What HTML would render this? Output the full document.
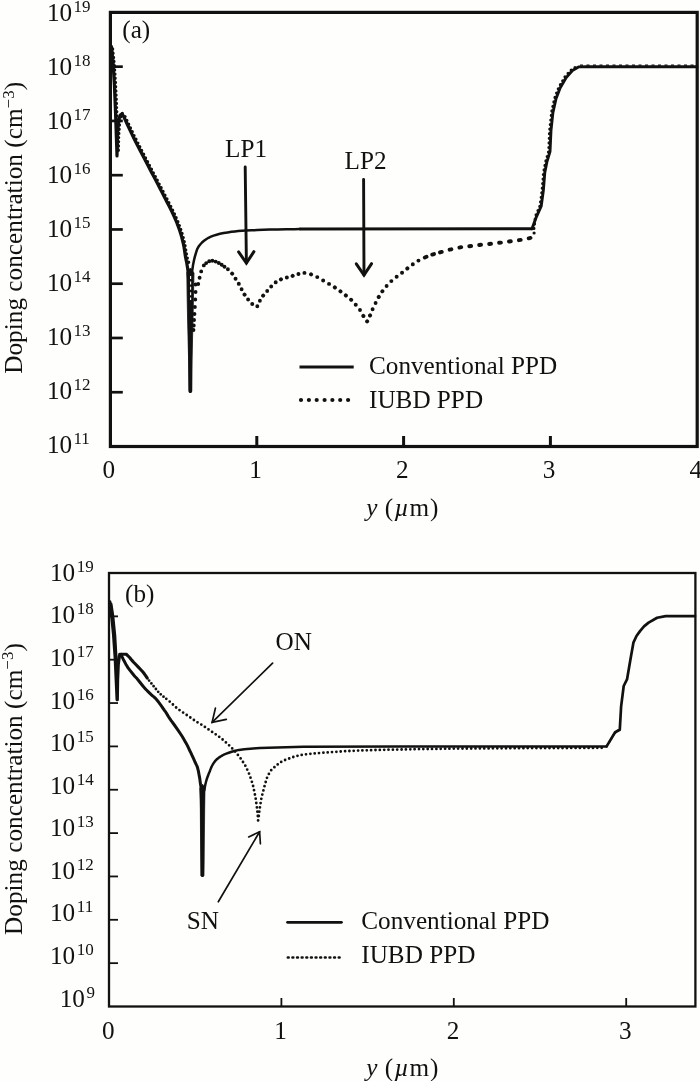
<!DOCTYPE html>
<html><head><meta charset="utf-8"><title>Doping concentration</title>
<style>html,body{margin:0;padding:0;background:#fefefc;}body{width:700px;height:1081px;overflow:hidden;}svg{display:block;will-change:transform;}text{font-family:"Liberation Serif",serif;fill:#111;}</style>
</head><body>
<svg width="700" height="1081" viewBox="0 0 700 1081">
<rect width="700" height="1081" fill="#fefefc"/>
<g fill="none" stroke="#111" stroke-linecap="butt" stroke-linejoin="miter">
<rect x="110.4" y="12.4" width="586.8" height="434.1" stroke-width="3.2"/>
<line x1="110.4" y1="66.66" x2="122.80000000000001" y2="66.66" stroke-width="2.7"/>
<line x1="110.4" y1="120.93" x2="122.80000000000001" y2="120.93" stroke-width="2.7"/>
<line x1="110.4" y1="175.19" x2="122.80000000000001" y2="175.19" stroke-width="2.7"/>
<line x1="110.4" y1="229.45" x2="122.80000000000001" y2="229.45" stroke-width="2.7"/>
<line x1="110.4" y1="283.71" x2="122.80000000000001" y2="283.71" stroke-width="2.7"/>
<line x1="110.4" y1="337.98" x2="122.80000000000001" y2="337.98" stroke-width="2.7"/>
<line x1="110.4" y1="392.24" x2="122.80000000000001" y2="392.24" stroke-width="2.7"/>
<line x1="256.80" y1="446.5" x2="256.80" y2="436.0" stroke-width="3"/>
<line x1="403.60" y1="446.5" x2="403.60" y2="436.0" stroke-width="3"/>
<line x1="550.40" y1="446.5" x2="550.40" y2="436.0" stroke-width="3"/>
</g>
<text x="47" y="21.30" font-size="25.2">10<tspan dy="-9" font-size="17" dx="1.2">19</tspan></text>
<text x="47" y="75.24" font-size="25.2">10<tspan dy="-9" font-size="17" dx="1.2">18</tspan></text>
<text x="47" y="129.18" font-size="25.2">10<tspan dy="-9" font-size="17" dx="1.2">17</tspan></text>
<text x="47" y="183.12" font-size="25.2">10<tspan dy="-9" font-size="17" dx="1.2">16</tspan></text>
<text x="47" y="237.06" font-size="25.2">10<tspan dy="-9" font-size="17" dx="1.2">15</tspan></text>
<text x="47" y="291.00" font-size="25.2">10<tspan dy="-9" font-size="17" dx="1.2">14</tspan></text>
<text x="47" y="344.94" font-size="25.2">10<tspan dy="-9" font-size="17" dx="1.2">13</tspan></text>
<text x="47" y="398.88" font-size="25.2">10<tspan dy="-9" font-size="17" dx="1.2">12</tspan></text>
<text x="47" y="452.82" font-size="25.2">10<tspan dy="-9" font-size="17" dx="1.2">11</tspan></text>
<text x="108.70" y="477.7" font-size="25.2" text-anchor="middle">0</text>
<text x="255.50" y="477.7" font-size="25.2" text-anchor="middle">1</text>
<text x="402.30" y="477.7" font-size="25.2" text-anchor="middle">2</text>
<text x="549.10" y="477.7" font-size="25.2" text-anchor="middle">3</text>
<text x="695.90" y="477.7" font-size="25.2" text-anchor="middle">4</text>
<text x="366.3" y="515.6" font-size="25.2"><tspan font-style="italic">y</tspan><tspan dx="1"> (</tspan><tspan font-style="italic" dx="1">µ</tspan><tspan dx="0.8" letter-spacing="0.8">m)</tspan></text>
<text transform="translate(22.3,227.8) rotate(-90)" font-size="25.2" text-anchor="middle" letter-spacing="0.04">Doping concentration (cm<tspan dy="-8.5" font-size="17">−3</tspan><tspan dy="8.5">)</tspan></text>
<text x="122.3" y="37.9" font-size="25.2">(a)</text>
<g fill="none" stroke="#111" stroke-linejoin="round" stroke-linecap="round">
<polyline points="111.4,46.5 113.0,62.0 114.4,85.0 115.5,112.0 116.4,138.0 117.0,156.0 117.0,156.0 117.4,140.0 117.9,128.0 118.8,119.5 120.2,115.2 121.8,114.2 123.2,115.6 123.2,115.6 125.1,119.6 127.7,125.4 130.8,131.9 134.0,138.5 137.3,145.1 140.9,152.0 144.6,158.9 148.0,165.5 151.3,171.9 154.6,178.1 157.6,183.8 160.0,188.5 161.6,191.6 162.6,193.5 163.5,195.2 164.8,197.8 166.8,201.7 169.2,206.3 171.6,211.1 173.7,215.5 175.4,219.4 177.0,223.2 178.3,226.8 179.6,230.3 180.7,233.7 181.7,237.0 182.5,240.3 183.3,243.6 184.0,247.0 184.5,250.3 185.0,253.7 185.5,256.9 186.1,259.9 186.7,262.8 187.2,265.7 187.7,268.8 188.1,272.0 188.3,275.1 188.6,278.8 188.8,283.6 189.0,288.8 189.2,294.3 189.4,301.9 189.6,313.0 189.8,331.0 189.9,354.1 190.1,376.2 190.2,391.5" stroke-width="3.2"/>
<polyline points="190.6,391.5 190.6,373.4 190.7,347.0 190.8,320.0 190.9,300.0 191.0,289.8 191.2,285.0 191.3,282.7 191.5,280.0 191.7,276.6 191.9,273.9 192.1,271.4 192.5,268.8 192.9,265.8 193.5,262.8 194.1,259.8 194.8,256.9 195.6,254.1 196.4,251.5 197.3,248.9 198.6,246.6 200.2,244.5 202.0,242.5 204.0,240.8 206.2,239.2 208.5,237.8 210.9,236.7 213.6,235.6 216.6,234.7 220.0,233.8 223.7,233.0 227.6,232.4 231.4,231.8 234.9,231.4 238.2,231.1 241.9,230.8 246.2,230.6 251.4,230.3 257.1,230.1 263.4,229.8 270.0,229.6 277.8,229.4 286.5,229.3 294.5,229.2 300.0,229.1" stroke-width="2.5"/>
<polygon points="187.0,272.0 190.4,268.0 194.0,273.0 193.4,300.0 193.0,320.0 192.5,340.0 192.1,360.0 191.8,391.5 189.0,391.5 188.6,360.0 188.1,340.0 187.6,320.0 187.2,300.0" fill="#111" stroke-width="0.8"/>
<line x1="190.6" y1="276" x2="190.6" y2="300" stroke="#fefefc" stroke-width="1.1" stroke-dasharray="3 2.4" stroke-linecap="butt"/>
<polyline points="300.0,229.1 532.0,228.8" stroke-width="3.0"/>
<polyline points="532.0,228.8 536.4,216.8 541.2,206.2 543.4,190.0 544.8,172.5 546.9,161.9 550.0,151.6 551.0,130.3 552.9,112.7 556.0,98.7 560.1,88.1 566.2,77.6 572.4,70.5 578.5,66.9 586.0,66.7 697.0,66.7" stroke-width="2.9"/>
</g>
<path d="M112.6,49.0h0M113.0,53.2h0M113.5,57.4h0M113.9,61.5h0M114.4,65.7h0M114.6,69.9h0M114.9,74.1h0M115.1,78.3h0M115.4,82.5h0M115.6,86.7h0M115.8,90.9h0M116.0,95.1h0M116.2,99.3h0M116.4,103.5h0M116.5,107.6h0M116.7,111.8h0M116.9,116.0h0M117.0,120.2h0M117.2,124.4h0M117.3,128.6h0M117.5,132.8h0M117.6,137.0h0M117.8,141.2h0M117.9,145.4h0M118.1,149.6h0M118.3,150.2h0M118.4,146.0h0M118.5,141.8h0M118.6,137.6h0M118.8,133.4h0M119.1,129.2h0M119.4,125.0h0M119.8,120.8h0M120.8,116.8h0M122.3,113.5h0M125.0,116.6h0M126.8,120.4h0M128.6,124.2h0M130.4,128.0h0M132.2,131.8h0M134.0,135.6h0M135.9,139.3h0M137.8,143.1h0M139.7,146.8h0M141.6,150.5h0M143.6,154.3h0M145.5,158.0h0M147.5,161.7h0M149.4,165.4h0M151.4,169.2h0M153.3,172.9h0M155.3,176.6h0M157.2,180.3h0M159.1,184.1h0M161.1,187.8h0M163.0,191.5h0M164.9,195.2h0M166.9,199.0h0M168.8,202.7h0M170.7,206.4h0M172.6,210.2h0M174.4,214.0h0M176.1,217.8h0M177.8,221.7h0M179.3,225.6h0M180.7,229.5h0M182.0,233.5h0M183.2,237.6h0M184.2,241.7h0M185.0,245.8h0M185.7,249.9h0M186.4,254.0h0M187.3,258.1h0M188.6,262.2h0" fill="none" stroke="#111" stroke-width="3.4" stroke-linecap="round"/>
<path d="M195.6,284.5h0M195.6,292.0h0M195.3,299.5h0M194.9,307.0h0M194.5,314.0h0M194.1,320.0h0M193.8,325.5h0M193.5,330.0h0" fill="none" stroke="#111" stroke-width="3.8" stroke-linecap="round"/>
<path d="M198.2,284.0h0M199.6,277.7h0M201.2,271.4h0M203.8,265.4h0M206.2,263.1h0M209.2,261.3h0M212.4,260.7h0M215.7,261.6h0M218.8,263.0h0M221.7,264.7h0M224.5,266.7h0" fill="none" stroke="#111" stroke-width="3.9" stroke-linecap="round"/>
<path d="M227.9,269.3L227.9,269.3M232.1,273.6L232.2,273.7M235.5,278.7L235.6,278.7M238.8,283.8L238.8,283.9M241.6,289.2L241.6,289.3M244.5,294.6L244.6,294.7M248.1,299.5L248.1,299.6M252.2,304.0L252.3,304.0M257.3,306.3L257.3,306.2M259.9,300.8L259.9,300.7M263.1,295.7L263.2,295.6M267.2,291.1L267.2,291.0M271.2,286.5L271.2,286.4M275.7,282.4L275.7,282.3M280.9,279.4L281.0,279.3M286.8,277.5L286.9,277.5M292.6,275.9L292.7,275.8M298.4,274.0L298.5,274.0M304.4,272.9L304.5,272.9M311.0,274.3L311.1,274.4M317.2,277.1L317.3,277.1M323.1,280.5L323.2,280.5M329.0,283.9L329.1,283.9M334.8,287.4L334.9,287.5M340.4,291.3L340.5,291.4M345.8,295.4L345.9,295.5M351.1,299.7L351.2,299.8M355.7,304.7L355.8,304.7M360.0,310.0L360.0,310.1M363.3,315.9L363.4,316.0M367.1,321.4L367.2,321.3M370.0,315.5L370.1,315.4M372.6,309.2L372.6,309.1M375.6,303.1L375.6,303.0M378.7,297.0L378.8,296.9M382.3,291.3L382.4,291.2M386.6,286.0L386.6,285.9M391.3,281.1L391.4,281.1M396.6,276.8L396.7,276.8M402.0,272.7L402.1,272.7M407.3,268.5L407.4,268.4M412.8,264.4L412.8,264.3M418.4,260.6L418.5,260.6M424.8,257.5L426.5,256.8M432.3,254.6L434.0,254.1M440.0,252.4L441.7,251.9M449.6,249.7L451.4,249.3M459.4,247.6L461.2,247.2M469.3,246.2L471.1,246.0M479.2,245.0L481.0,244.8M489.2,244.0L491.0,243.8M499.1,242.8L500.9,242.6M509.0,241.5L510.8,241.3M518.9,240.2L520.7,239.9M528.7,238.3L530.5,237.9" fill="none" stroke="#111" stroke-width="3.9" stroke-linecap="round"/>
<path d="M534.1,233.0h0M533.9,228.4h0M534.5,223.9h0M535.1,219.3h0M536.1,214.8h0M538.0,210.6h0M539.8,206.4h0M540.6,201.9h0M541.2,197.3h0M541.8,192.8h0M542.3,188.2h0M542.7,183.6h0M543.1,179.1h0M543.4,174.5h0M544.1,169.9h0M545.0,165.4h0M545.9,160.9h0M547.2,156.5h0M548.5,152.1h0M548.9,147.5h0M549.1,142.9h0M549.3,138.3h0M549.5,133.7h0M549.8,129.1h0M550.3,124.6h0M550.8,120.0h0M551.3,115.4h0M551.9,110.9h0M552.9,106.4h0M553.9,101.9h0M555.0,97.4h0M556.6,93.1h0M558.3,88.8h0M560.4,84.7h0M562.7,80.8h0M565.0,76.8h0M568.1,73.4h0M571.2,70.0h0M575.0,67.5h0" fill="none" stroke="#111" stroke-width="3.2" stroke-linecap="round"/>
<line x1="580" y1="65.2" x2="697" y2="65.2" stroke="#111" stroke-width="1.2" stroke-dasharray="3 3.5"/>
<g fill="none" stroke="#111" stroke-linecap="round" stroke-linejoin="miter"><line x1="245.2" y1="167.0" x2="246.4" y2="263.0" stroke-width="2.9"/><polyline stroke-width="3.0" points="238.6,251.9 246.4,263.0 253.9,251.7"/></g>
<g fill="none" stroke="#111" stroke-linecap="round" stroke-linejoin="miter"><line x1="363.6" y1="179.5" x2="364.0" y2="275.0" stroke-width="2.9"/><polyline stroke-width="3.0" points="356.3,263.8 364.0,275.0 371.6,263.7"/></g>
<text x="225" y="156.6" font-size="25.2">LP1</text>
<text x="344.5" y="169" font-size="25.2">LP2</text>
<line x1="299.5" y1="367" x2="353.7" y2="367" stroke="#111" stroke-width="3"/>
<path d="M301.0,400.0h0M308.9,400.0h0M316.7,400.0h0M324.6,400.0h0M332.4,400.0h0M340.2,400.0h0M348.1,400.0h0" fill="none" stroke="#111" stroke-width="4.2" stroke-linecap="round"/>
<text x="369" y="373.7" font-size="25.2">Conventional PPD</text>
<text x="369" y="408.4" font-size="25.2">IUBD PPD</text>
<g fill="none" stroke="#111" stroke-linecap="butt">
<rect x="109.0" y="573.0" width="586.4" height="433.5" stroke-width="2.3"/>
<line x1="109.0" y1="616.35" x2="118.0" y2="616.35" stroke-width="1.8"/>
<line x1="109.0" y1="659.70" x2="118.0" y2="659.70" stroke-width="1.8"/>
<line x1="109.0" y1="703.05" x2="118.0" y2="703.05" stroke-width="1.8"/>
<line x1="109.0" y1="746.40" x2="118.0" y2="746.40" stroke-width="1.8"/>
<line x1="109.0" y1="789.75" x2="118.0" y2="789.75" stroke-width="1.8"/>
<line x1="109.0" y1="833.10" x2="118.0" y2="833.10" stroke-width="1.8"/>
<line x1="109.0" y1="876.45" x2="118.0" y2="876.45" stroke-width="1.8"/>
<line x1="109.0" y1="919.80" x2="118.0" y2="919.80" stroke-width="1.8"/>
<line x1="109.0" y1="963.15" x2="118.0" y2="963.15" stroke-width="1.8"/>
<line x1="281.40" y1="1006.5" x2="281.40" y2="998.0" stroke-width="1.8"/>
<line x1="453.80" y1="1006.5" x2="453.80" y2="998.0" stroke-width="1.8"/>
<line x1="626.20" y1="1006.5" x2="626.20" y2="998.0" stroke-width="1.8"/>
</g>
<text x="50" y="580.80" font-size="25.2">10<tspan dy="-9" font-size="17" dx="1.6">19</tspan></text>
<text x="50" y="623.37" font-size="25.2">10<tspan dy="-9" font-size="17" dx="1.6">18</tspan></text>
<text x="50" y="665.94" font-size="25.2">10<tspan dy="-9" font-size="17" dx="1.6">17</tspan></text>
<text x="50" y="708.51" font-size="25.2">10<tspan dy="-9" font-size="17" dx="1.6">16</tspan></text>
<text x="50" y="751.08" font-size="25.2">10<tspan dy="-9" font-size="17" dx="1.6">15</tspan></text>
<text x="50" y="793.65" font-size="25.2">10<tspan dy="-9" font-size="17" dx="1.6">14</tspan></text>
<text x="50" y="836.22" font-size="25.2">10<tspan dy="-9" font-size="17" dx="1.6">13</tspan></text>
<text x="50" y="878.79" font-size="25.2">10<tspan dy="-9" font-size="17" dx="1.6">12</tspan></text>
<text x="50" y="921.36" font-size="25.2">10<tspan dy="-9" font-size="17" dx="1.6">11</tspan></text>
<text x="50" y="963.93" font-size="25.2">10<tspan dy="-9" font-size="17" dx="1.6">10</tspan></text>
<text x="59.7" y="1006.50" font-size="25.2">10<tspan dy="-9" font-size="17" dx="1.6">9</tspan></text>
<text x="108.20" y="1038.6" font-size="25.2" text-anchor="middle">0</text>
<text x="280.60" y="1038.6" font-size="25.2" text-anchor="middle">1</text>
<text x="453.00" y="1038.6" font-size="25.2" text-anchor="middle">2</text>
<text x="625.40" y="1038.6" font-size="25.2" text-anchor="middle">3</text>
<text x="366.3" y="1075.8" font-size="25.2"><tspan font-style="italic">y</tspan><tspan dx="1"> (</tspan><tspan font-style="italic" dx="1">µ</tspan><tspan dx="0.8" letter-spacing="0.8">m)</tspan></text>
<text transform="translate(21.8,789) rotate(-90)" font-size="25.2" text-anchor="middle" letter-spacing="0.04">Doping concentration (cm<tspan dy="-8.5" font-size="17">−3</tspan><tspan dy="8.5">)</tspan></text>
<text x="125" y="602.4" font-size="25.2">(b)</text>
<g fill="none" stroke="#111" stroke-linejoin="round" stroke-linecap="round">
<polyline points="109.8,602.0 111.6,614.0 113.6,634.0 115.3,658.0 116.5,684.0 117.2,699.6 117.2,699.6 117.5,680.0 118.2,664.0 119.3,656.2 121.2,654.6" stroke-width="3.4"/>
<polyline points="111.2,604.0 113.0,616.0 115.0,636.0 116.4,660.0 117.2,684.0" stroke-width="2.6"/>
<polyline points="121.2,655.2 121.7,656.2 122.5,657.7 123.3,659.4 124.2,661.0 125.0,662.6 125.8,664.2 126.8,665.8 127.9,667.6 129.4,669.6 131.2,671.9 132.9,674.0 134.3,675.7 135.2,676.7 135.7,677.2 136.2,677.7 137.0,678.6 138.3,680.2 139.9,682.2 141.5,684.2 142.9,686.0 144.0,687.3 145.0,688.4 146.0,689.5 147.0,690.5 148.1,691.6 149.1,692.6 150.2,693.7 151.4,694.8 152.6,695.9 153.9,696.9 155.2,698.1 156.5,699.5 157.9,701.2 159.3,703.1 160.8,705.1 162.1,707.0 163.4,708.8 164.6,710.6 165.8,712.2 166.7,713.6 167.1,714.3 167.2,714.5 167.5,715.1 168.6,716.8 171.0,720.3 174.4,725.0 177.8,729.9 180.6,734.0 182.4,736.8 183.7,739.0 184.8,740.9 186.0,743.0 187.3,745.4 188.5,747.9 189.7,750.5 190.9,752.9 192.0,755.3 193.1,757.7 194.1,759.9 195.0,762.0 195.8,763.6 196.4,764.9 197.1,766.3 197.7,768.3 198.4,771.1 199.0,774.4 199.7,778.1 200.2,782.0 200.6,784.8 201.0,787.1 201.2,791.4 201.5,800.0 201.7,816.6 201.9,838.9 202.1,860.6 202.2,875.5" stroke-width="3.0"/>
<polygon points="199.9,788.0 202.5,784.0 205.1,788.0 204.7,810.0 204.3,845.0 204.0,876.0 200.9,876.0 200.6,845.0 200.3,810.0" fill="#111" stroke-width="0.6"/>
<polyline points="202.8,875.5 202.9,860.4 202.9,838.4 203.0,816.1 203.2,800.0 203.4,792.8 203.7,790.7 204.0,790.7 204.4,789.7 204.8,787.2 205.3,784.7 205.9,782.3 206.5,780.0 207.2,777.8 208.0,775.7 208.8,773.6 209.6,771.7 210.3,769.9 211.0,768.1 211.7,766.5 212.5,765.0 213.3,763.6 214.1,762.4 215.0,761.2 216.0,760.1 217.1,759.0 218.4,758.1 219.7,757.1 221.0,756.3 222.1,755.6 223.2,755.0 224.4,754.4 226.3,753.7 228.8,752.8 231.7,751.8 235.2,750.7 239.1,749.9 244.2,749.2 250.3,748.7 256.1,748.3 260.0,748.0 303.4,746.8 400.0,746.4 606.6,746.4" stroke-width="2.5"/>
<polyline points="606.6,746.4 615.1,732.3 619.8,729.7 621.1,706.6 623.7,686.0 627.1,679.1 630.6,658.6 633.5,642.3 636.5,636.0 640.0,631.1 644.0,626.4 648.6,622.6 657.1,617.8 665.7,616.1 695.0,616.1" stroke-width="2.7"/>
<polyline points="119.6,654.2 126.3,654.2 126.3,654.2 126.9,654.8 127.7,655.6 128.6,656.5 129.6,657.5 130.4,658.5 131.2,659.5 132.2,660.6 133.6,662.2 135.6,664.3 138.1,666.9 140.6,669.5 142.7,671.8 144.3,673.8 145.6,675.6 146.6,677.1 147.3,678.2" stroke-width="3.1"/>
</g>
<path d="M149.1,680.6h0M151.4,683.4h0M153.6,686.2h0M155.9,689.0h0M158.2,691.8h0M160.7,694.3h0M163.5,696.7h0M166.3,698.8h0M169.7,701.6h0M172.9,704.5h0M176.1,707.5h0M179.5,710.1h0M183.1,712.6h0M186.7,715.0h0M190.3,717.5h0M193.9,720.0h0M197.5,722.3h0M201.3,724.6h0M204.9,726.9h0M208.5,729.4h0M212.1,731.9h0M215.7,734.3h0M219.2,736.8h0M222.6,739.5h0M225.9,742.4h0M229.1,745.3h0M232.2,748.4h0M235.1,751.6h0M237.9,754.9h0M240.6,758.4h0M243.0,762.0h0M245.3,765.7h0M247.2,769.6h0M249.0,773.6h0M250.5,777.7h0M251.9,781.8h0M253.1,786.0h0M254.0,790.2h0M254.9,794.5h0M255.7,798.7h0M256.3,803.0h0M256.9,807.4h0M257.4,811.7h0M257.8,816.0h0M258.1,820.4h0" fill="none" stroke="#111" stroke-width="2.8" stroke-linecap="round"/>
<path d="M258.8,816.0h0M259.3,811.7h0M259.9,807.4h0M260.6,803.1h0M261.3,798.8h0M262.3,794.6h0M263.4,790.4h0M264.5,786.2h0M265.7,782.0h0M267.0,777.8h0M268.9,773.9h0M271.2,770.2h0M274.4,767.2h0M277.7,764.4h0M281.2,761.9h0M285.1,760.0h0M289.2,758.5h0M293.3,757.0h0M297.5,755.8h0M301.7,754.9h0M306.0,754.3h0M310.4,753.8h0M314.7,753.4h0M319.0,753.1h0M323.4,752.7h0M327.7,752.4h0M332.0,752.1h0M336.4,751.8h0M340.7,751.5h0M345.1,751.2h0M349.4,751.0h0M353.7,750.8h0M358.1,750.6h0M362.4,750.4h0M366.8,750.3h0M371.1,750.2h0M375.5,750.0h0M379.8,749.9h0M384.2,749.8h0M388.5,749.7h0M392.9,749.7h0M397.2,749.6h0M401.6,749.5h0M405.9,749.4h0M410.3,749.3h0M414.6,749.2h0M419.0,749.1h0M423.3,749.1h0M427.7,749.0h0M432.0,748.9h0M436.4,748.9h0M440.7,748.8h0M445.1,748.7h0M449.4,748.7h0M453.8,748.6h0M458.1,748.6h0M462.5,748.5h0M466.8,748.5h0M471.2,748.5h0M475.5,748.4h0M479.9,748.4h0M484.2,748.4h0M488.6,748.4h0M492.9,748.3h0M497.3,748.3h0M501.6,748.3h0M506.0,748.3h0M510.3,748.2h0M514.7,748.2h0M519.0,748.2h0M523.4,748.2h0M527.7,748.1h0M532.1,748.1h0M536.4,748.1h0M540.8,748.1h0M545.1,748.1h0M549.5,748.0h0M553.8,748.0h0M558.2,748.0h0M562.5,748.0h0M566.9,748.0h0M571.2,747.9h0M575.6,747.9h0M579.9,747.9h0M584.3,747.9h0M588.6,747.9h0M593.0,747.9h0M597.3,747.8h0M601.7,747.8h0" fill="none" stroke="#111" stroke-width="2.8" stroke-linecap="round"/>
<path d="M608.0,744.3h0M609.7,741.4h0M611.5,738.4h0M613.2,735.5h0M615.3,732.9h0M617.7,730.4h0" fill="none" stroke="#111" stroke-width="2.0" stroke-linecap="round"/>
<g fill="none" stroke="#111" stroke-linecap="round" stroke-linejoin="miter"><line x1="272.6" y1="663.2" x2="212.1" y2="722.3" stroke-width="1.7"/><polyline stroke-width="1.7" points="215.4,708.2 212.1,722.3 226.3,719.4"/></g>
<g fill="none" stroke="#111" stroke-linecap="round" stroke-linejoin="miter"><line x1="218.3" y1="901.8" x2="259.6" y2="831.8" stroke-width="1.7"/><polyline stroke-width="1.7" points="260.4,843.8 259.6,831.8 248.7,836.9"/></g>
<text x="275.5" y="649.6" font-size="25.2">ON</text>
<text x="186.8" y="929.3" font-size="25.2">SN</text>
<line x1="287.5" y1="922.3" x2="341.5" y2="922.3" stroke="#111" stroke-width="2.7" stroke-linecap="round"/>
<path d="M287.80,957.6h0.9M292.43,957.6h0.9M297.06,957.6h0.9M301.69,957.6h0.9M306.32,957.6h0.9M310.95,957.6h0.9M315.58,957.6h0.9M320.21,957.6h0.9M324.84,957.6h0.9M329.47,957.6h0.9M334.10,957.6h0.9M338.73,957.6h0.9" fill="none" stroke="#111" stroke-width="2.5" stroke-linecap="round"/>
<text x="361.3" y="928.6" font-size="25.2">Conventional PPD</text>
<text x="361.3" y="963" font-size="25.2">IUBD PPD</text>
</svg></body></html>
